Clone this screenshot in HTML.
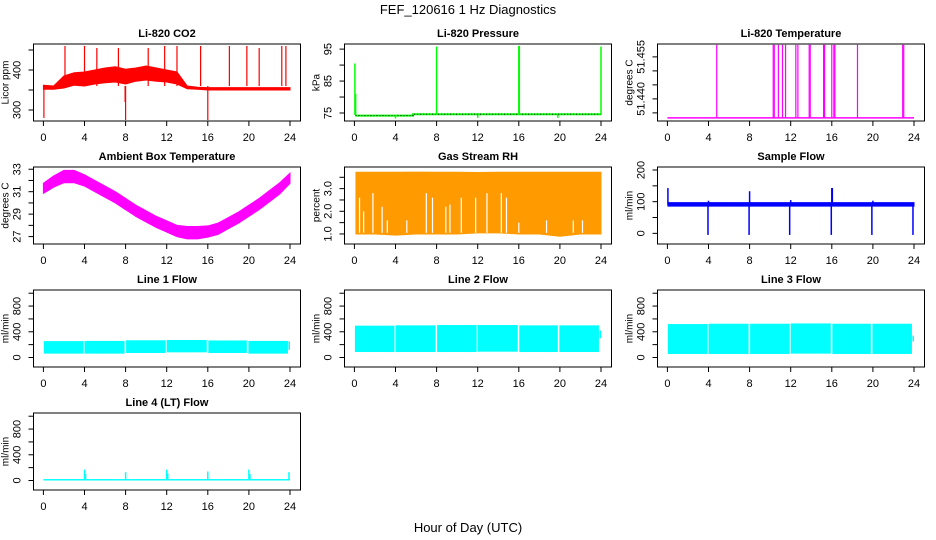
<!DOCTYPE html>
<html><head><meta charset="utf-8"><style>
html,body{margin:0;padding:0;background:#fff;}
svg{display:block;font-family:"Liberation Sans",Arial,sans-serif;}
</style></head><body>
<svg id="fig" width="936" height="540" viewBox="0 0 936 540" xmlns="http://www.w3.org/2000/svg">
<text x="468" y="14" text-anchor="middle" font-size="13">FEF_120616  1 Hz Diagnostics</text>
<text x="468" y="532" text-anchor="middle" font-size="13">Hour of Day (UTC)</text>
</svg>
<script>
// ---- data ----
const co2Hours=[0,1,2,3,4,5,6,7,8,9,10,11,12,13,14,15,16,17,18,19,20,21,22,23,24];
const co2Lo=[352,352,355,362,360,365,368,370,365,372,375,372,370,365,353,352,350,350,350,350,350,350,350,350,350];
const co2Hi=[362,360,385,393,395,400,405,408,402,405,410,405,400,395,360,357,356,356,356,356,356,356,356,356,356];
const co2SpikeHours=[0.05,2.1,4.0,5.2,7.3,7.95,8.0,10.2,11.8,13.0,15.3,16.0,18.1,19.8,21.0,23.2,23.6];
const co2SpikeVals=[280,460,460,455,455,320,275,455,460,460,460,275,460,460,455,460,460];
const presBaseHours=[0.1,5.7,5.7,24];
const presBaseVals=[74.2,74.2,74.6,74.6];
const presSpikeHours=[0.05,0.12,8.0,16.0,16.05,24.0,4.0,12.0,19.8];
const presSpikeVals=[90.5,81,95.8,96,96,95.8,73.3,73.5,73.5];
const tempBase=51.4332;
const tempSpikeHours=[4.8,10.3,10.4,10.8,11.2,11.5,12.5,12.7,13.8,13.9,15.2,15.3,16.0,16.2,16.3,18.5,22.9,23.0];
const tempSpikeVals=[51.4593,51.4593,51.4593,51.4593,51.4593,51.4593,51.4593,51.4593,51.4593,51.4593,51.4593,51.4593,51.4593,51.4593,51.4593,51.4593,51.4593,51.4593];
const ambHours=[0,1,2,3,4,5,6,7,8,9,10,11,12,13,14,15,16,17,18,19,20,21,22,23,24];
const ambMid=[31.3,31.9,32.35,32.35,32.0,31.5,31.0,30.5,29.9,29.3,28.8,28.3,27.9,27.5,27.35,27.35,27.45,27.7,28.2,28.7,29.3,29.9,30.6,31.3,32.2];
const ambHalfWidth=[0.45,0.5,0.55,0.55,0.5,0.5,0.5,0.5,0.5,0.5,0.5,0.5,0.5,0.5,0.55,0.55,0.5,0.5,0.5,0.5,0.5,0.5,0.5,0.5,0.45];
const rhHours=[0.15,2,4,6,8,10,12,14,16,18,20,22,24];
const rhTop=[3.72,3.72,3.72,3.73,3.72,3.72,3.71,3.72,3.72,3.72,3.72,3.72,3.72];
const rhBottom=[1.0,1.0,0.95,1.0,1.0,1.0,1.05,1.05,1.0,1.0,0.9,1.0,1.0];
const rhGapHours=[0.5,0.9,1.8,2.7,3.2,5.1,7.0,7.6,8.9,9.3,10.4,11.8,12.9,14.3,14.8,16.0,18.7,21.3,22.2];
const rhGapTops=[2.6,2.0,2.8,2.2,1.6,1.6,2.8,2.6,2.2,2.3,2.6,2.6,2.8,2.8,2.6,1.5,1.6,1.6,1.6];
const sfLo=86, sfHi=97;
const sfDipHours=[3.95,7.95,11.9,15.95,19.9,23.9];
const sfDipVals=[-5,-5,-5,-5,-5,-5];
const sfSpikeHours=[0.05,4.0,8.0,12.0,16.0,16.05,20.0];
const sfSpikeVals=[143,103,133,105,143,143,103];
const segStart=[0.05,4.0,8.05,12.0,16.05,19.95,23.85];
const segEnd=[3.9,7.9,11.9,15.9,19.8,23.8,24.0];
const line1Lo=[60,60,70,80,70,60,120];
const line1Hi=[255,258,268,272,265,258,250];
const line2Lo=[85,85,85,90,85,85,300];
const line2Hi=[495,500,505,505,500,500,420];
const line3Lo=[55,55,55,60,55,55,250];
const line3Hi=[520,525,525,530,525,525,340];
const line4Base=[0,22];
const line4SpikeHours=[4.0,4.1,8.0,12.0,12.1,16.0,20.0,20.1,23.9];
const line4SpikeVals=[170,100,130,170,110,140,170,100,130];

// ---- layout ----
const NS='http://www.w3.org/2000/svg';
const svg=document.getElementById('fig');
const colX=[33.5,344.5,657.5], rowY=[44,167,290,413], BW=267, BH=77;
function mk(tag,attrs,parent,name){
  const el=document.createElementNS(NS,tag);
  for(const k in attrs) el.setAttribute(k,attrs[k]);
  
  
  (parent||svg).appendChild(el);
  return el;
}
function panel(c,r,title,ylab,ymin,ymax,yticks,ylabels,name){
  const L=colX[c],T=rowY[r];
  const g=mk('g',{},svg,name);
  const sx=h=>L+9.9+h*246.6/24;
  const sy=v=>T+(ymax-v)/(ymax-ymin)*BH;
  const t=mk('text',{x:L+BW/2,y:T-7,'text-anchor':'middle','font-size':11,'font-weight':'bold'},g,'panel-title');
  t.textContent=title;
  const plot=mk('g',{},g,'plot-area');
  for(let h=0;h<=24;h+=4){
    mk('line',{x1:sx(h),x2:sx(h),y1:T+BH,y2:T+BH+5,stroke:'#000'},g,'x-tick');
    const lt=mk('text',{x:sx(h),y:T+BH+20,'text-anchor':'middle','font-size':11},g,'x-tick-label');
    lt.textContent=h;
  }
  yticks.forEach((v,i)=>{
    const y=sy(v);
    mk('line',{x1:L-5,x2:L,y1:y,y2:y,stroke:'#000'},g,'y-tick');
    if(ylabels[i]){
      const lt=mk('text',{x:0,y:0,'text-anchor':'middle','font-size':11,transform:`translate(${L-13},${y}) rotate(-90)`},g,'y-tick-label');
      lt.textContent=ylabels[i];
    }
  });
  const yt=mk('text',{x:0,y:0,'text-anchor':'middle','font-size':10,transform:`translate(${L-25},${T+BH/2}) rotate(-90)`},g,'y-axis-title');
  yt.textContent=ylab;
  mk('rect',{x:L,y:T,width:BW,height:BH,fill:'none',stroke:'#000','stroke-width':1},g,'plot-box');
  return {g:plot,sx,sy};
}
function band(p,hours,lo,hi,color,name){
  let pts=hours.map((h,i)=>p.sx(h)+','+p.sy(hi[i]));
  pts=pts.concat(hours.slice().reverse().map((h,j)=>{const i=hours.length-1-j;return p.sx(h)+','+p.sy(lo[i]);}));
  return mk('polygon',{points:pts.join(' '),fill:color,stroke:color,'stroke-width':1},p.g,name);
}
function spikes(p,hours,vals,base,color,name,w){
  hours.forEach((h,i)=>{
    mk('line',{x1:p.sx(h),x2:p.sx(h),y1:p.sy(base),y2:p.sy(vals[i]),stroke:color,'stroke-width':w||1.2},p.g,name);
  });
}

let p=panel(0,0,'Li-820 CO2','Licor ppm',272.5,465,[300,350,400,450],['300','','400',''],'co2-panel');
band(p,co2Hours,co2Lo,co2Hi,'#ff0000','co2-band');
spikes(p,co2SpikeHours,co2SpikeVals,360,'#ff0000','co2-spike');

p=panel(1,0,'Li-820 Pressure','kPa',72.5,96.6,[75,80,85,90,95],['75','','85','','95'],'pressure-panel');
mk('polyline',{points:presBaseHours.map((h,i)=>p.sx(h)+','+p.sy(presBaseVals[i])).join(' '),fill:'none',stroke:'#00ff00','stroke-width':2},p.g,'pressure-line');
mk('polyline',{points:presBaseHours.map((h,i)=>p.sx(h)+','+p.sy(presBaseVals[i])).join(' '),fill:'none',stroke:'#000','stroke-width':1,'stroke-dasharray':'1,2'},p.g,'pressure-dots');
spikes(p,presSpikeHours,presSpikeVals,74.4,'#00ff00','pressure-spike',1.5);

p=panel(2,0,'Li-820 Temperature','degrees C',51.4321,51.4596,[51.435,51.440,51.445,51.450,51.455],['','51.440','','','51.455'],'temperature-panel');
mk('line',{x1:p.sx(0),x2:p.sx(24),y1:p.sy(tempBase),y2:p.sy(tempBase),stroke:'#ff00ff','stroke-width':1.5},p.g,'temperature-line');
spikes(p,tempSpikeHours,tempSpikeVals,tempBase,'#ff00ff','temperature-spike',1.2);

p=panel(0,1,'Ambient Box Temperature','degrees C',26.34,33.2,[27,28,29,30,31,32,33],['27','','29','','31','','33'],'ambient-panel');
band(p,ambHours,ambMid.map((m,i)=>m-ambHalfWidth[i]),ambMid.map((m,i)=>m+ambHalfWidth[i]),'#ff00ff','ambient-band');

p=panel(1,1,'Gas Stream RH','percent',0.557,3.954,[1.0,1.5,2.0,2.5,3.0,3.5],['1.0','','2.0','','3.0',''],'rh-panel');
band(p,rhHours,rhBottom,rhTop,'#ff9a00','rh-band');
rhGapHours.forEach((h,i)=>{
  mk('line',{x1:p.sx(h),x2:p.sx(h),y1:p.sy(1.05),y2:p.sy(rhGapTops[i]),stroke:'#fff','stroke-width':1.2},p.g,'rh-gap');
});

p=panel(2,1,'Sample Flow','ml/min',-33.6,209.5,[0,50,100,150,200],['0','','100','','200'],'sample-flow-panel');
band(p,[0.05,24],[sfLo,sfLo],[sfHi,sfHi],'#0000ff','sample-flow-band');
spikes(p,sfDipHours,sfDipVals,90,'#0000ff','sample-flow-dip',1.5);
spikes(p,sfSpikeHours,sfSpikeVals,90,'#0000ff','sample-flow-spike',1.5);

const lt=[0,200,400,600,800,1000], ll=['0','','400','','800',''];
function segs(p,lo,hi,name){
  segStart.forEach((s,i)=>{
    mk('rect',{x:p.sx(s),y:p.sy(hi[i]),width:p.sx(segEnd[i])-p.sx(s),height:p.sy(lo[i])-p.sy(hi[i]),fill:'#00ffff'},p.g,name);
  });
}
p=panel(0,2,'Line 1 Flow','ml/min',-148,1050,lt,ll,'line1-panel');
segs(p,line1Lo,line1Hi,'line1-segment');
p=panel(1,2,'Line 2 Flow','ml/min',-148,1050,lt,ll,'line2-panel');
segs(p,line2Lo,line2Hi,'line2-segment');
p=panel(2,2,'Line 3 Flow','ml/min',-148,1050,lt,ll,'line3-panel');
segs(p,line3Lo,line3Hi,'line3-segment');
p=panel(0,3,'Line 4 (LT) Flow','ml/min',-148,1050,lt,ll,'line4-panel');
mk('rect',{x:p.sx(0),y:p.sy(line4Base[1]),width:p.sx(24)-p.sx(0),height:p.sy(line4Base[0])-p.sy(line4Base[1]),fill:'#00ffff'},p.g,'line4-base');
spikes(p,line4SpikeHours,line4SpikeVals,10,'#00ffff','line4-spike',1.5);
</script>
</body></html>
